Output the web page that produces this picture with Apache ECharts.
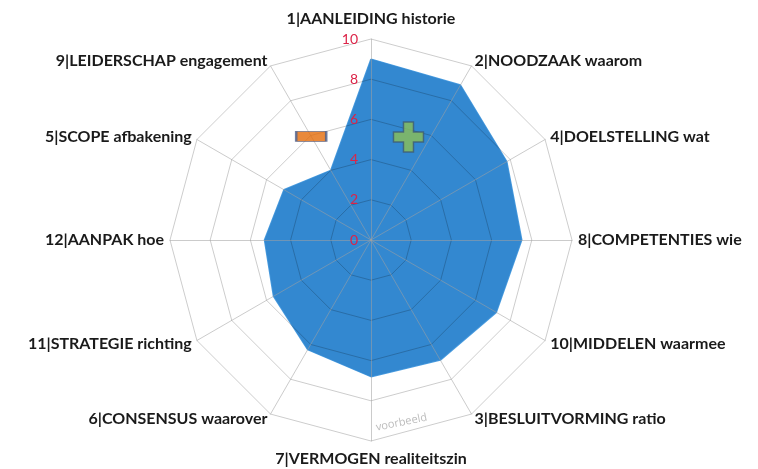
<!DOCTYPE html>
<html>
<head>
<meta charset="utf-8">
<script src="https://cdn.jsdelivr.net/npm/echarts@6/dist/echarts.min.js"></script>
<style>
html,body{margin:0;padding:0;background:#fff;}
#chart{width:758px;height:469px;}
</style>
</head>
<body>
<div id="chart"></div>
<script>
// Categories in clockwise order starting at top
var categories = [
  '1|AANLEIDING historie',
  '2|NOODZAAK waarom',
  '4|DOELSTELLING wat',
  '8|COMPETENTIES wie',
  '10|MIDDELEN waarmee',
  '3|BESLUITVORMING ratio',
  '7|VERMOGEN realiteitszin',
  '6|CONSENSUS waarover',
  '11|STRATEGIE richting',
  '12|AANPAK hoe',
  '5|SCOPE afbakening',
  '9|LEIDERSCHAP engagement'
];
var scores = [9.0, 8.9, 7.8, 7.5, 7.2, 6.9, 6.8, 6.3, 5.6, 5.3, 5.0, 4.0];
var tickValues = [0, 2, 4, 6, 8, 10];
// markers: [radius value, angle in degrees clockwise from top]
var orangeMarker = [5.95, 330];
var greenMarker = [5.45, 20];
var watermark = 'voorbeeld';

var maxVal = 10;
// ECharts radar lays indicators counter-clockwise; reorder to get clockwise
var order = [0];
for (var i = categories.length - 1; i >= 1; i--) order.push(i);
var indicator = order.map(function (i) { return { name: categories[i], max: maxVal, min: 0 }; });
var values = order.map(function (i) { return scores[i]; });

var CX = 371, CY = 240, R = 201;
var chart = echarts.init(document.getElementById('chart'));
chart.setOption({
  animation: false,
  radar: {
    center: [CX, CY],
    radius: R,
    shape: 'polygon',
    splitNumber: 5,
    z: 10,
    startAngle: 90,
    indicator: indicator,
    axisName: {
      color: '#1a1a1a',
      fontFamily: 'Lato',
      fontWeight: 'bold',
      fontSize: 16,
      formatter: function (name) {
        if (name === categories[0]) return '{t|' + name + '}';
        if (name === categories[6]) return '{b|' + name + '}';
        return name;
      },
      rich: {
        t: { fontFamily: 'Lato', fontWeight: 'bold', fontSize: 16, color: '#1a1a1a', padding: [0, 0, 6, 0] },
        b: { fontFamily: 'Lato', fontWeight: 'bold', fontSize: 16, color: '#1a1a1a', padding: [4, 0, 0, 0] }
      }
    },
    nameGap: 6,
    splitArea: { show: false },
    splitLine: { lineStyle: { color: 'rgba(0,0,0,0.2)', width: 1 } },
    axisLine: { lineStyle: { color: 'rgba(160,160,160,0.55)', width: 1 } },
    axisTick: { show: false },
    axisLabel: { show: false }
  },
  polar: { center: [CX, CY], radius: R },
  angleAxis: {
    type: 'value', min: 0, max: 360, startAngle: 90, clockwise: true,
    show: false
  },
  radiusAxis: {
    type: 'value', min: 0, max: maxVal, interval: 2,
    zlevel: 1,
    axisLine: { show: false },
    axisTick: { show: false },
    splitLine: { show: false },
    axisLabel: { show: true, color: '#DC2448', fontSize: 14, fontFamily: 'Lato', margin: 13 }
  },
  series: [
    {
      type: 'radar',
      z: 2,
      symbol: 'none',
      data: [{ value: values }],
      lineStyle: { color: '#4d9ee0', width: 1.5 },
      areaStyle: { color: '#3388D0', opacity: 1 }
    },
    {
      type: 'scatter',
      coordinateSystem: 'polar',
      zlevel: 2,
      symbol: 'path://M0,0 H30 V10 H0 Z',
      symbolSize: [30, 10],
      symbolKeepAspect: false,
      itemStyle: { color: '#E46C0A', borderColor: '#4B5F8C', borderWidth: 1.5 },
      data: [orangeMarker]
    },
    {
      type: 'scatter',
      coordinateSystem: 'polar',
      zlevel: 2,
      symbol: 'path://M1,0 H2 V1 H3 V2 H2 V3 H1 V2 H0 V1 H1 Z',
      symbolSize: 30,
      itemStyle: { color: '#8CBF55', borderColor: '#3F5B72', borderWidth: 1.5 },
      data: [greenMarker]
    }
  ],
  graphic: [{
    type: 'text',
    left: 375, top: 412,
    rotation: 0.2,
    style: { text: watermark, fill: '#bdbdbd', font: '11px "Open Sans"' },
    z: 30
  }]
});
</script>
</body>
</html>
